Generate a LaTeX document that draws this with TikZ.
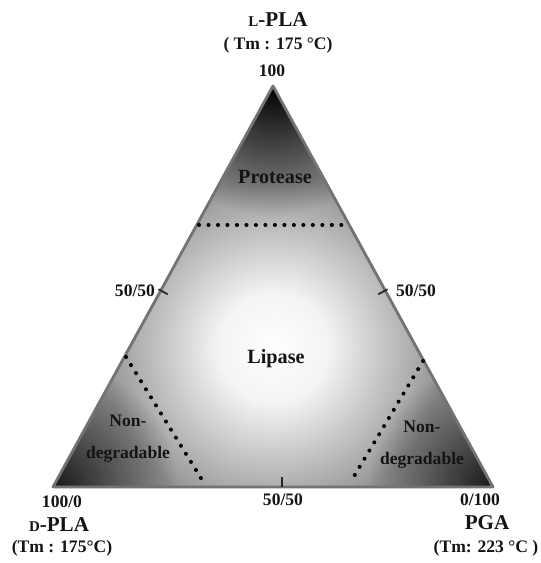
\documentclass[tikz,border=0pt]{standalone}
\usepackage{fontspec}
\setmainfont{Liberation Serif}
\usetikzlibrary{calc,fadings}
\pgfdeclareradialshading{lightshade}{\pgfpointorigin}{color(0bp)=(pgftransparent!0); color(8bp)=(pgftransparent!10); color(25bp)=(pgftransparent!100); color(50bp)=(pgftransparent!100)}
\pgfdeclarefading{lightfade}{\pgfuseshading{lightshade}}
\tikzfading[name=darkfade, inner color=transparent!0, outer color=transparent!100]
\newcommand{\lowcap}[1]{{\fontsize{8.5}{8.5}\selectfont #1}}
\tikzset{
  numtxt/.style = {font=\bfseries\fontsize{10}{12}\selectfont, text=black!92, inner sep=0pt},
  nametxt/.style = {font=\bfseries\fontsize{12}{14}\selectfont, text=black!92, inner sep=0pt},
  regiontxt/.style = {font=\bfseries\fontsize{11.5}{14}\selectfont, text=black!92, inner sep=0pt},
  edgeline/.style = {draw=black!55, line width=1.6pt, line join=round},
  dotline/.style = {black, line width=2.3pt, dash pattern=on 0pt off 5.4pt, line cap=round},
  tickmark/.style = {black!85, line width=1pt}
}

\begin{document}
\begin{tikzpicture}[x=0.02cm,y=0.02cm]
  \useasboundingbox (0,0) rectangle (540,563);
  % corners of the diagram
  \coordinate (apex) at (273,477);
  \coordinate (dpla) at (53,76);
  \coordinate (pga) at (493,76);
  % shaded fill
  \begin{scope}
    \clip (apex) -- (dpla) -- (pga) -- cycle;
    \fill[black!42] (apex) -- (dpla) -- (pga) -- cycle;
    \fill[white, path fading=lightfade] (273,215) circle (170);
    \fill[black, path fading=darkfade] (apex) circle (130);
    \foreach \corner in {dpla,pga} {
      \fill[black!90, path fading=darkfade] (\corner) circle (125);
    }
  \end{scope}
  \draw[edgeline] (apex) -- (dpla) -- (pga) -- cycle;
  % 50/50 ticks
  \coordinate (tl) at ($(dpla)!.49!(apex)$);
  \coordinate (tr) at ($(pga)!.49!(apex)$);
  \coordinate (tb) at (282,76);
  \draw[tickmark] ($(tl)!-1.5pt!-90:(apex)$) -- ($(tl)!4.5pt!-90:(apex)$);
  \draw[tickmark] ($(tr)!-1.5pt!90:(apex)$) -- ($(tr)!4.5pt!90:(apex)$);
  \draw[tickmark] (tb) -- ++(0,10);
  % region borders
  \coordinate (pl) at (199,338);
  \coordinate (pr) at (347,338);
  \coordinate (nlt) at (126,206);
  \coordinate (nlb) at (204,80);
  \coordinate (nrt) at (423,202);
  \coordinate (nrb) at (350,80);
  \draw[dotline] (pl) -- (pr);
  \draw[dotline] (nlt) -- (nlb);
  \draw[dotline] (nrt) -- (nrb);
  % regions
  \node[regiontxt] (protease) at (275,386) {Protease};
  \node[regiontxt] (lipase) at (276,204) {Lipase};
  \node[numtxt, align=center, font=\bfseries\fontsize{10}{18}\selectfont] (nondegl) at (128,124) {Non-\\degradable};
  \node[numtxt, align=center, font=\bfseries\fontsize{10}{18}\selectfont] (nondegr) at (422,118) {Non-\\degradable};
  % axis values
  \node[numtxt] (top100) at (272,492) {100};
  \node[numtxt] (left50) at (135,272) {50/50};
  \node[numtxt] (right50) at (416,272) {50/50};
  \node[numtxt] (bottom50) at (283,63) {50/50};
  \node[numtxt] (left100) at (62,61) {100/0};
  \node[numtxt] (right100) at (480,63) {0/100};
  % polymers
  \node[nametxt] (lpla) at (278,543) {\lowcap{L}-PLA};
  \node[numtxt] (lplatm) at (278,518) {( Tm : 175 °C)};
  \node[nametxt] (dplaname) at (59,38) {\lowcap{D}-PLA};
  \node[numtxt] (dplatm) at (62,15) {(Tm : 175°C)};
  \node[nametxt] (pganame) at (487,40) {PGA};
  \node[numtxt] (pgatm) at (486,15) {(Tm: 223 °C )};
\end{tikzpicture}
\end{document}
